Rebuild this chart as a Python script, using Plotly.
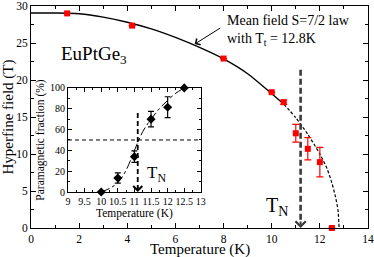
import plotly.graph_objects as go

# Main panel: hyperfine field data
main_T = [1.5, 4.2, 8.0, 10.0, 10.5, 11.0, 11.5, 12.0, 12.5]
main_B = [29.0, 27.35, 22.9, 18.35, 17.0, 12.8, 10.7, 8.9, 0.0]
main_err = [0, 0, 0, 0, 0.3, 1.2, 1.5, 2.0, 0]

# Mean-field S=7/2 curve
fit_T = [0, 1, 2, 3, 4, 5, 6, 7, 8, 9, 10, 10.5, 11, 11.5, 12, 12.3, 12.5, 12.65, 12.75, 12.8]
fit_B = [29.05, 29.05, 28.95, 28.5, 27.8, 26.9, 25.75, 24.4, 22.85, 20.85, 18.15, 16.75,
         14.9, 12.65, 10.0, 8.0, 6.1, 4.2, 2.5, 0.0]
split_T = 10.5

# Inset: paramagnetic fraction
ins_T = [10.0, 10.5, 11.0, 11.5, 12.0, 12.5]
ins_F = [0, 13.5, 34, 70, 81.5, 100]
ins_err = [0, 5, 5.5, 7.5, 10, 0]
ins_fit_T = [10.0, 10.25, 10.5, 10.75, 11.0, 11.25, 11.5, 11.75, 12.0, 12.25, 12.5]
ins_fit_F = [0, 3.5, 9, 21, 40, 58, 70, 80, 88, 95, 100]

TN_main = 11.2
TN_inset = 11.1
FONT = "Liberation Serif"

fig = go.Figure()

solid_T = [t for t in fit_T if t <= split_T]
solid_B = [b for t, b in zip(fit_T, fit_B) if t <= split_T]
dash_T = [t for t in fit_T if t >= split_T]
dash_B = [b for t, b in zip(fit_T, fit_B) if t >= split_T]

fig.add_trace(go.Scatter(x=solid_T, y=solid_B, mode="lines", line=dict(color="black", width=1.4, shape="spline", smoothing=0.8), hoverinfo="skip"))
fig.add_trace(go.Scatter(x=dash_T, y=dash_B, mode="lines", line=dict(color="black", width=1.2, dash="3px,2px", shape="spline", smoothing=0.6), hoverinfo="skip"))
fig.add_trace(go.Scatter(x=main_T, y=main_B, mode="markers",
                         marker=dict(symbol="square", size=6, color="#ff0000"),
                         error_y=dict(type="data", array=main_err, color="#ff0000", thickness=1.2, width=3.5),
                         cliponaxis=False))

# inset traces
fig.add_trace(go.Scatter(x=ins_fit_T, y=ins_fit_F, mode="lines", xaxis="x2", yaxis="y2",
                         line=dict(color="black", width=1, dash="dashdot", shape="spline"), hoverinfo="skip"))
fig.add_trace(go.Scatter(x=ins_T, y=ins_F, mode="markers", xaxis="x2", yaxis="y2",
                         marker=dict(symbol="diamond", size=7, color="black"),
                         error_y=dict(type="data", array=ins_err, color="black", thickness=1.2, width=3),
                         cliponaxis=False))

axis_common = dict(showline=True, linecolor="black", linewidth=1, mirror="allticks",
                   ticks="inside", tickcolor="black", showgrid=False, zeroline=False,
                   automargin=False)

def f(size):
    return dict(family=FONT, size=size, color="black")

fig.update_layout(
    width=374, height=257,
    margin=dict(l=31, r=6, t=6, b=29),
    paper_bgcolor="white", plot_bgcolor="white",
    showlegend=False,
    font=dict(family=FONT, color="black"),
    xaxis=dict(range=[0, 14], dtick=2, ticklen=5, tickfont=f(11.5),
               minor=dict(dtick=1, ticklen=3, ticks="inside", tickcolor="black"),
               domain=[0, 1], **axis_common),
    yaxis=dict(range=[0, 30], dtick=5, ticklen=5, tickfont=f(11.5),
               minor=dict(dtick=2.5, ticklen=3, ticks="inside", tickcolor="black"),
               title=dict(text="Hyperfine field (T)", font=f(15), standoff=0),
               domain=[0, 1], **axis_common),
    xaxis2=dict(range=[9, 13], dtick=0.5, ticklen=4, tickfont=f(10),
                minor=dict(dtick=0.25, ticklen=2, ticks="inside", tickcolor="black"),
                title=dict(text="Temperature (K)", font=f(11.5), standoff=0),
                domain=[0.1098, 0.504], anchor="y2", **axis_common),
    yaxis2=dict(range=[0, 100], dtick=20, ticklen=4, tickfont=f(10),
                minor=dict(dtick=10, ticklen=2, ticks="inside", tickcolor="black"),
                title=dict(text="Paramagnetic fraction (%)", font=f(11.5), standoff=2),
                domain=[0.162, 0.631], anchor="x2", **axis_common),
)

shapes = [
    dict(type="line", xref="x", yref="y", x0=TN_main, x1=TN_main, y0=21.4, y1=0.8,
         line=dict(color="#3a3a3a", width=2.6, dash="6px,3px")),
    dict(type="line", xref="x2", yref="y2", x0=9, x1=13, y0=50, y1=50,
         line=dict(color="black", width=1, dash="4px,3px")),
    dict(type="line", xref="x2", yref="y2", x0=TN_inset, x1=TN_inset, y0=76, y1=2,
         line=dict(color="black", width=1.8, dash="5px,3px")),
]
fig.update_layout(shapes=shapes)

ann = [
    dict(x=0.5, y=0, xref="paper", yref="paper", text="Temperature (K)", showarrow=False,
         xanchor="center", yanchor="middle", yshift=-21.5, font=f(15)),
    dict(x=2.6, y=23.4, xref="x", yref="y", text="EuPtGe<sub>3</sub>", showarrow=False,
         font=f(19)),
    dict(x=8.05, y=26.75, xref="x", yref="y", text="Mean field S=7/2 law<br>with T<sub>t</sub> = 12.8K",
         showarrow=False, xanchor="left", yanchor="middle", align="left", font=f(14)),
    dict(x=6.8, y=24.85, xref="x", yref="y", text="", showarrow=True, ax=27, ay=-17,
         arrowhead=4, arrowsize=1.4, arrowwidth=1, arrowcolor="black"),
    dict(x=9.7, y=2.9, xref="x", yref="y", text="T<sub>N</sub>", showarrow=False,
         xanchor="left", yanchor="middle", font=f(20)),
    dict(x=TN_main, y=0, xref="x", yref="y", text="", showarrow=True, ax=0, ay=-8,
         arrowhead=4, arrowsize=1.0, arrowwidth=2, arrowcolor="#3a3a3a"),
    dict(x=11.33, y=17, xref="x2", yref="y2", text="T<sub>N</sub>", showarrow=False,
         xanchor="left", yanchor="middle", font=f(17)),
    dict(x=TN_inset, y=0, xref="x2", yref="y2", text="", showarrow=True, ax=0, ay=-7,
         arrowhead=4, arrowsize=1.1, arrowwidth=1.6, arrowcolor="black"),
]
fig.update_layout(annotations=ann)

fig.write_html("out.html", config={"displayModeBar": False},
               post_script="document.body.style.margin='0';document.body.style.padding='0';")
